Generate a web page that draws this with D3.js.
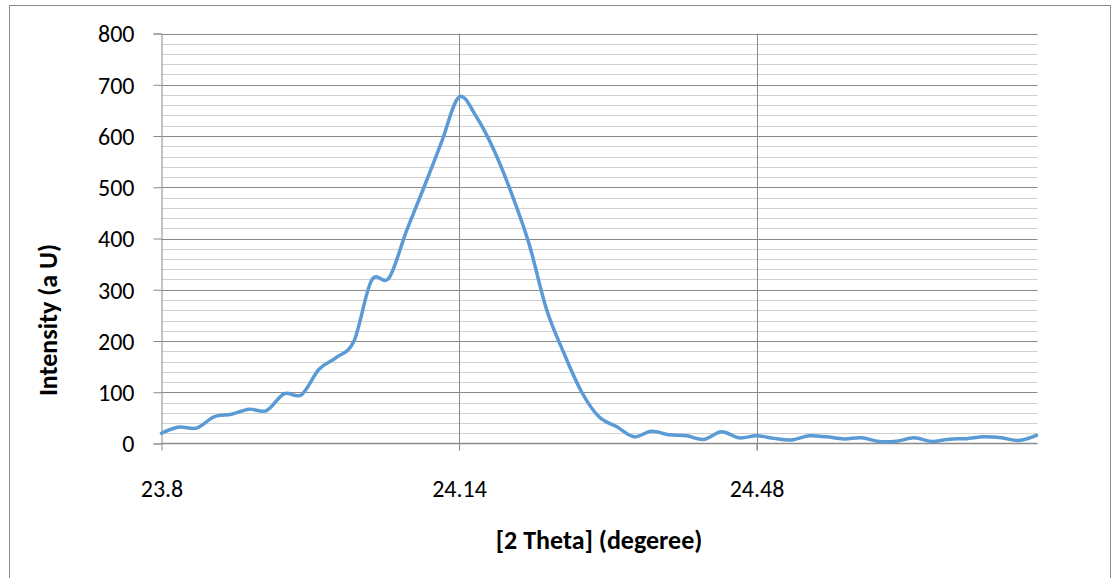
<!DOCTYPE html>
<html><head><meta charset="utf-8">
<script src="https://cdn.jsdelivr.net/npm/d3@7/dist/d3.min.js"></script>
<style>html,body{margin:0;padding:0;background:#fff;}svg{display:block;}</style>
</head><body>
<svg id="c" width="1117" height="578"></svg>
<script>
const categories = ["23.80","23.82","23.84","23.86","23.88","23.90","23.92","23.94","23.96","23.98",
"24.00","24.02","24.04","24.06","24.08","24.10","24.12","24.14","24.16","24.18",
"24.20","24.22","24.24","24.26","24.28","24.30","24.32","24.34","24.36","24.38",
"24.40","24.42","24.44","24.46","24.48","24.50","24.52","24.54","24.56","24.58",
"24.60","24.62","24.64","24.66","24.68","24.70","24.72","24.74","24.76","24.78","24.80"];
const intensity = [20,32,30,52,57,67,64,97,95,145,168,200,318,323,415,500,588,676,637,572,
488,390,262,176,101,52,33,13,24,17,15,8,23,11,15,10,7,15,13,9,11,4,4.5,11,4,8.5,9.5,13,11,6,16];
const xTickCats = ["23.80","24.14","24.48"];
const xTickLabels = ["23.8","24.14","24.48"];
const yMajorTicks = [0,100,200,300,400,500,600,700,800];
const yMinorTicks = [20,40,60,80,120,140,160,180,220,240,260,280,320,340,360,380,420,440,460,480,520,540,560,580,620,640,660,680,720,740,760,780];

const svg = d3.select("#c");
const font = "Carlito, Lato, 'Liberation Sans', sans-serif";
// outer frame
svg.append("rect").attr("x",9.5).attr("y",5.5).attr("width",1101).attr("height",600)
  .attr("fill","none").attr("stroke","#8c8c8c").attr("stroke-width",1);

const x = d3.scalePoint().domain(categories).range([161.5, 1036.5]);
const y = d3.scaleLinear().domain([0,800]).range([443.5, 33.5]);
const L = 161.5, R = 1037.5;

// minor gridlines
svg.append("g").selectAll("line").data(yMinorTicks).join("line")
  .attr("x1",L).attr("x2",R).attr("y1",d=>Math.round(y(d))+0.5).attr("y2",d=>Math.round(y(d))+0.5)
  .attr("stroke","#d0d0d0").attr("stroke-width",1);
// major gridlines
svg.append("g").selectAll("line").data(yMajorTicks.filter(d=>d>0)).join("line")
  .attr("x1",L).attr("x2",R).attr("y1",d=>Math.round(y(d))+0.5).attr("y2",d=>Math.round(y(d))+0.5)
  .attr("stroke","#8a8a8a").attr("stroke-width",1);
// vertical gridlines
svg.append("g").selectAll("line").data(xTickCats.slice(1)).join("line")
  .attr("x1",d=>Math.round(x(d))+0.5).attr("x2",d=>Math.round(x(d))+0.5).attr("y1",y(800)).attr("y2",y(0)+7)
  .attr("stroke","#8a8a8a").attr("stroke-width",1);

// y axis
const yAxis = d3.axisLeft(y).tickValues(yMajorTicks).tickSize(8).tickPadding(19).tickFormat(d3.format("d"));
const gy = svg.append("g").attr("transform",`translate(${L},0)`).call(yAxis);
gy.select(".domain").attr("stroke","#8a8a8a");
gy.selectAll(".tick line").attr("stroke","#8a8a8a");
gy.selectAll("text").attr("font-family",font).attr("font-size",24).attr("fill","#000").attr("dy","0.35em");

// x axis
const xAxis = d3.axisBottom(x).tickValues(xTickCats).tickSize(7)
  .tickFormat((d,i)=>xTickLabels[i]);
const gx = svg.append("g").attr("transform",`translate(0,${y(0)})`).call(xAxis);
gx.select(".domain").attr("stroke","#8a8a8a").attr("stroke-width",1.5).attr("d",`M${L},0H${R}`);
gx.selectAll(".tick line").attr("stroke","#8a8a8a");
gx.selectAll("text").attr("font-family",font).attr("font-size",24).attr("fill","#000")
  .attr("y",45).attr("dy","0.35em");

// line
const line = d3.line().x((d,i)=>x(categories[i])).y(d=>y(d)).curve(d3.curveCatmullRom.alpha(0));
svg.append("path").datum(intensity).attr("d",line).attr("fill","none")
  .attr("stroke","#5b9bd5").attr("stroke-width",3.5).attr("stroke-linejoin","round").attr("stroke-linecap","round");

// axis titles
svg.append("text").attr("x",599).attr("y",540).attr("dy","0.35em").attr("text-anchor","middle")
  .attr("font-family",font).attr("font-weight","bold").attr("font-size",26).text("[2 Theta] (degeree)");
svg.append("text").attr("transform","translate(48,320) rotate(-90)").attr("dy","0.35em").attr("text-anchor","middle")
  .attr("font-family",font).attr("font-weight","bold").attr("font-size",26).text("Intensity (a U)");
</script>
</body></html>
